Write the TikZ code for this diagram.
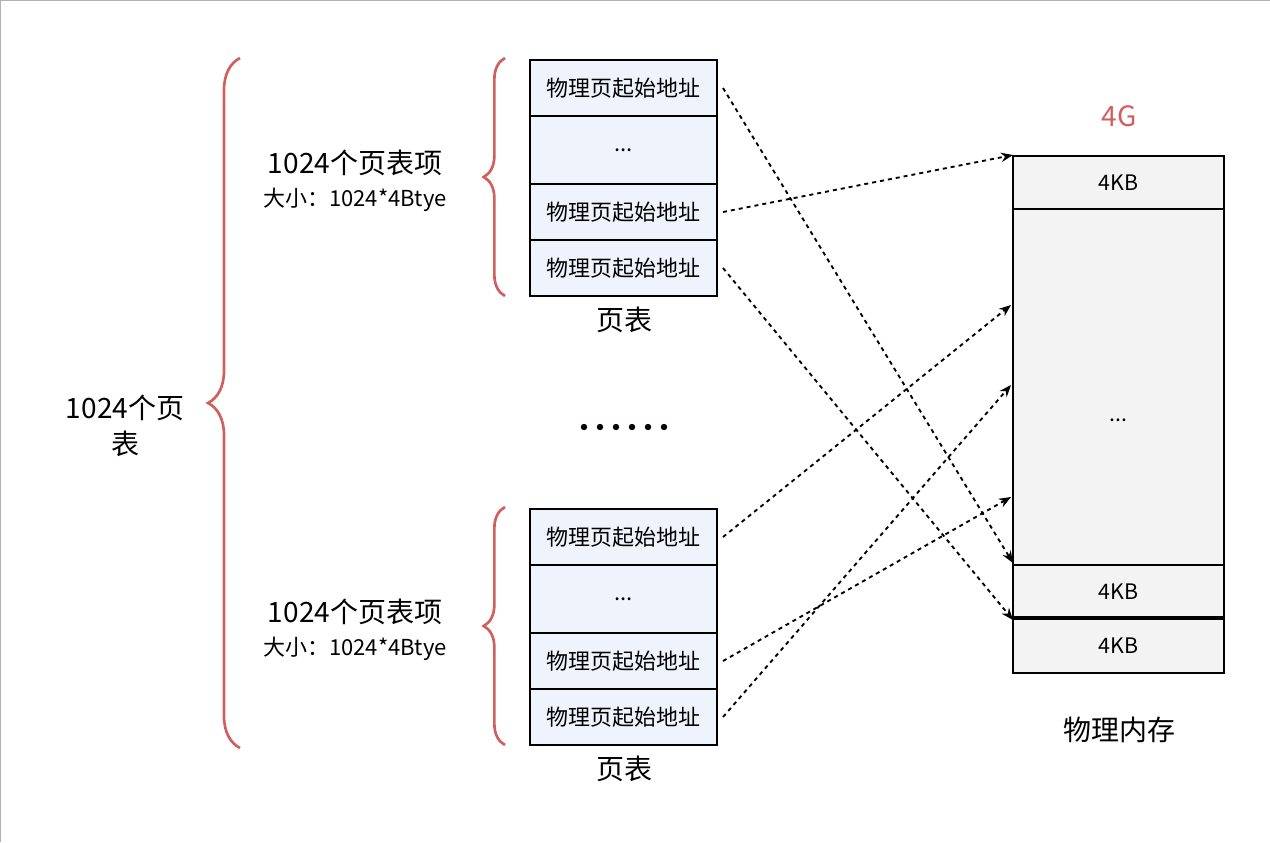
\documentclass[tikz,border=0pt]{standalone}
\usepackage{fontspec}
\setmainfont{Noto Sans CJK SC}
\usetikzlibrary{decorations.pathreplacing,arrows.meta}
\definecolor{cellfill}{HTML}{EEF3FC}
\definecolor{memfill}{HTML}{F3F3F3}
\definecolor{bred}{HTML}{D0605E}
\begin{document}
\begin{tikzpicture}[x=0.75pt,y=-0.75pt,
 cell/.style={draw=black,line width=1.5pt,fill=cellfill,minimum width=187*0.75pt,inner sep=0pt,font=\fontsize{16.5}{18}\selectfont},
 mem/.style={draw=black,line width=1.5pt,fill=memfill,minimum width=211*0.75pt,inner sep=0pt,font=\fontsize{16}{18}\selectfont},
 br/.style={draw=bred,line width=2pt,decorate,decoration={brace,amplitude=#1,aspect=0.5}},
 arr/.style={dashed,line width=1.4pt,-{Stealth[length=9pt,width=7pt]}},
 big/.style={font=\fontsize{21}{23}\selectfont}]
\useasboundingbox (0,0) rectangle (1270,842);
\draw[gray!60,line width=1pt] (0,842) -- (0,0.5) -- (1270,0.5);
% tables
\foreach \p/\o in {a/0,b/449}{
 \node[cell,minimum height=56*0.75pt] (\p1) at (623.5,88+\o) {物理页起始地址};
 \node[cell,minimum height=68*0.75pt] (\p2) at (623.5,150+\o) {...};
 \node[cell,minimum height=56*0.75pt] (\p3) at (623.5,212+\o) {物理页起始地址};
 \node[cell,minimum height=56*0.75pt] (\p4) at (623.5,268+\o) {物理页起始地址};
 \node[big] (\p t) at (624,320+\o) {页表};
 \node[big] (\p h) at (355,163+\o) {1024个页表项};
 \node[font=\fontsize{16.5}{18}\selectfont] (\p s) at (355,200+\o) {大小：1024*4Btye};
 \draw[br=16pt] (505,296+\o) -- (505,58+\o);
}
% memory
\node[mem,minimum height=53*0.75pt] (m1) at (1118.5,182.5) {4KB};
\node[mem,minimum height=356*0.75pt] (m2) at (1118.5,387) {};
\node[font=\fontsize{16}{18}\selectfont] (m2t) at (1118.5,420) {...};
\node[mem,minimum height=53*0.75pt] (m3) at (1118.5,591.5) {4KB};
\node[mem,minimum height=54*0.75pt] (m4) at (1118.5,646) {4KB};
\draw[line width=3.5pt] (m4.north west) -- (m4.north east);
\node[text=bred,big] (g) at (1119,116) {4G};
\node[big] (pm) at (1119,730) {物理内存};
% big brace
\draw[br=24pt] (240,748) -- (240,58);
\node[big,align=center] (bt) at (125,426) {1024个页\\[4pt]表};
\foreach \i in {0,...,5} \fill (584+16*\i,427) circle (3.2);
% arrows
\coordinate (e1) at (1013,563); \coordinate (e2) at (1013,155);
\coordinate (e3) at (1013,620); \coordinate (e4) at (1011,305);
\coordinate (e5) at (1011,497); \coordinate (e6) at (1011,385);
\draw[arr] ([xshift=5*0.75pt]a1.east) -- (e1);
\draw[arr] ([xshift=5*0.75pt]a3.east) -- (e2);
\draw[arr] ([xshift=5*0.75pt]a4.east) -- (e3);
\draw[arr] ([xshift=5*0.75pt]b1.east) -- (e4);
\draw[arr] ([xshift=5*0.75pt]b3.east) -- (e5);
\draw[arr] ([xshift=5*0.75pt]b4.east) -- (e6);
\end{tikzpicture}
\end{document}
